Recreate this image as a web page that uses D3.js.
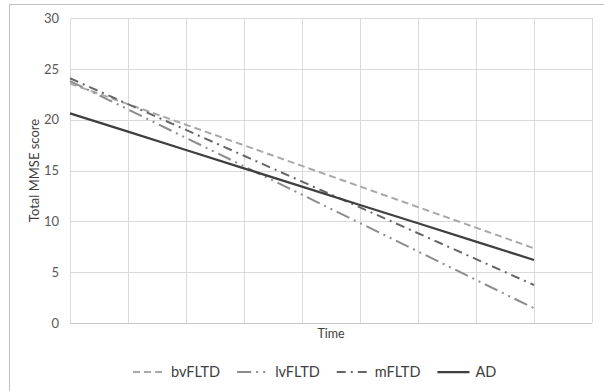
<!DOCTYPE html>
<html>
<head>
<meta charset="utf-8">
<script src="https://cdn.jsdelivr.net/npm/d3@7"></script>
<style>
  html, body { margin: 0; padding: 0; background: #fff; }
  svg { display: block; }
  text { font-family: Lato, "Open Sans", sans-serif; }
</style>
</head>
<body>
<svg id="chart" width="604" height="391"></svg>
<script>
// ---- data ----
const timePoints = [1, 2, 3, 4, 5, 6, 7, 8, 9];
const seriesNames = ["bvFLTD", "lvFLTD", "mFLTD", "AD"];
const bvFLTD = [23.55, 21.53, 19.50, 17.48, 15.45, 13.43, 11.40, 9.38, 7.35];
const lvFLTD = [23.80, 21.01, 18.21, 15.42, 12.62, 9.83, 7.04, 4.24, 1.45];
const mFLTD  = [24.07, 21.53, 18.99, 16.45, 13.91, 11.37, 8.83, 6.29, 3.74];
const AD     = [20.62, 18.82, 17.02, 15.21, 13.41, 11.61, 9.81, 8.00, 6.20];
const yTicks = [0, 5, 10, 15, 20, 25, 30];
const xTitle = "Time";
const yTitle = "Total MMSE score";

const seriesValues = { bvFLTD, lvFLTD, mFLTD, AD };
const styles = {
  bvFLTD: { color: "#a9a9a9", width: 2,    dash: "7,4" },
  lvFLTD: { color: "#8c8c8c", width: 2,    dash: "14,5,2,5,2,5" },
  mFLTD:  { color: "#666666", width: 2,    dash: "9,5,2,5" },
  AD:     { color: "#3f3f3f", width: 2.25, dash: null }
};

const svg = d3.select("#chart");
const plot = { left: 70, right: 592, top: 18, bottom: 323 };

// chart frame (top and left edges visible in the crop)
svg.append("line").attr("x1", 9.5).attr("x2", 604).attr("y1", 4.5).attr("y2", 4.5)
  .attr("stroke", "#bfbfbf").attr("stroke-width", 1);
svg.append("line").attr("x1", 9.5).attr("x2", 9.5).attr("y1", 4.5).attr("y2", 391)
  .attr("stroke", "#bfbfbf").attr("stroke-width", 1);

const x = d3.scaleLinear().domain([1, 10]).range([plot.left, plot.right]);
const y = d3.scaleLinear().domain([0, 30]).range([plot.bottom, plot.top]);

// horizontal gridlines
svg.append("g").selectAll("line").data(yTicks).join("line")
  .attr("x1", plot.left).attr("x2", plot.right)
  .attr("y1", d => Math.round(y(d)) + 0.5).attr("y2", d => Math.round(y(d)) + 0.5)
  .attr("stroke", "#d9d9d9").attr("stroke-width", 1);

// vertical gridlines (category boundaries)
const xGrid = d3.range(1, 11);
svg.append("g").selectAll("line").data(xGrid).join("line")
  .attr("x1", d => Math.round(x(d)) + 0.5).attr("x2", d => Math.round(x(d)) + 0.5)
  .attr("y1", plot.top).attr("y2", plot.bottom)
  .attr("stroke", "#d9d9d9").attr("stroke-width", 1);

// y axis labels
const yAxis = d3.axisLeft(y).tickValues(yTicks).tickSize(0).tickPadding(11);
const yg = svg.append("g").attr("transform", `translate(${plot.left},0)`).call(yAxis);
yg.select(".domain").remove();
yg.selectAll("text").attr("fill", "#595959").style("font-size", "13px")
  .style("font-family", "Lato, 'Open Sans', sans-serif");

// x-axis line
svg.append("line").attr("x1", plot.left).attr("x2", plot.right)
  .attr("y1", Math.round(y(0)) + 0.5).attr("y2", Math.round(y(0)) + 0.5)
  .attr("stroke", "#c8c8c8").attr("stroke-width", 1);

// axis titles
svg.append("text").attr("x", (plot.left + plot.right) / 2).attr("y", 338)
  .attr("text-anchor", "middle").attr("fill", "#404040").style("font-size", "12.5px")
  .text(xTitle);
svg.append("text")
  .attr("transform", `translate(39,${(plot.top + plot.bottom) / 2}) rotate(-90)`)
  .attr("text-anchor", "middle").attr("fill", "#404040").style("font-size", "13px")
  .text(yTitle);

// lines
const line = d3.line().x((d, i) => x(timePoints[i])).y(d => y(d));
seriesNames.forEach(name => {
  const s = styles[name];
  svg.append("path").datum(seriesValues[name])
    .attr("d", line)
    .attr("fill", "none")
    .attr("stroke", s.color)
    .attr("stroke-width", s.width)
    .attr("stroke-dasharray", s.dash)
    .attr("stroke-linecap", "butt");
});

// legend
const legend = svg.append("g");
let lx = 133;
const ly = 372;
seriesNames.forEach(name => {
  const s = styles[name];
  legend.append("line").attr("x1", lx).attr("x2", lx + 32).attr("y1", ly).attr("y2", ly)
    .attr("stroke", s.color).attr("stroke-width", s.width)
    .attr("stroke-dasharray", s.dash);
  const t = legend.append("text").attr("x", lx + 38).attr("y", ly + 5)
    .attr("fill", "#404040").style("font-size", "14.5px").text(name);
  lx = lx + 38 + t.node().getComputedTextLength() + 17;
});
</script>
</body>
</html>
